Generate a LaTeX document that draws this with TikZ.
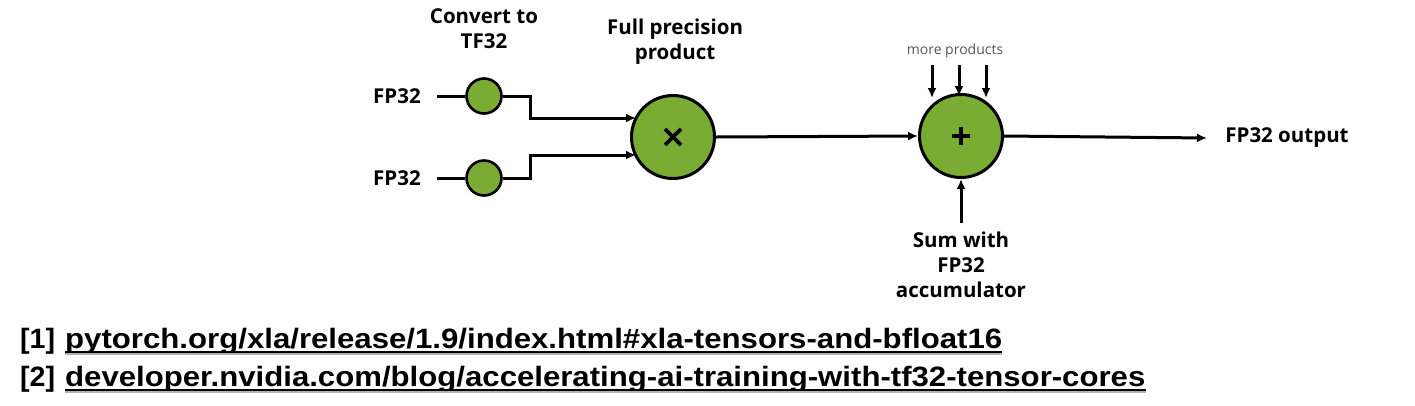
\documentclass[tikz,border=0pt]{standalone}
\usepackage{fontspec}
\setmainfont{Open Sans}
\newfontfamily\reffont{Liberation Sans}
\usetikzlibrary{arrows.meta}
\definecolor{nvgreen}{RGB}{122,172,52}
\definecolor{gtext}{RGB}{85,85,85}
\begin{document}
\begin{tikzpicture}[x=1pt,y=-1pt,
  lbl/.style={font=\fontsize{20.5}{25}\selectfont\bfseries, align=center, inner sep=0pt},
  small/.style={circle, draw=black, line width=2.6pt, fill=nvgreen, minimum size=35pt, inner sep=0pt},
  big/.style={circle, draw=black, line width=3pt, fill=nvgreen, minimum size=83pt, inner sep=0pt},
  sym/.style={line width=3.6pt},
  wire/.style={line width=3pt},
  arr/.style={line width=3pt, -{Latex[length=10pt,width=9pt]}},
  ref/.style={font=\reffont\fontsize{28}{30}\selectfont\bfseries, inner sep=0pt, anchor=base west}
]
\useasboundingbox (0,0) rectangle (1415,405);

% labels
\node[lbl] (fp1) at (397,96) {FP32};
\node[lbl] (fp2) at (397,178) {FP32};
\node[lbl] (conv) at (484,29) {Convert to\\TF32};
\node[lbl] (full) at (675,42) {Full precision\\product};
\node[lbl] (out) at (1287,138) {FP32 output};
\node[lbl] (sum) at (961,265) {Sum with\\FP32\\accumulator};
\node[inner sep=0pt, text=gtext, font=\fontsize{14}{14}\selectfont] (more) at (955,51) {more products};

% circles
\node[small] (c1) at (484,96) {};
\node[small] (c2) at (484,178) {};
\node[big] (mul) at (673,137) {};
\node[big] (add) at (961,136) {};
\draw[sym] ([shift={(-8,-8)}]mul.center) -- ([shift={(8,8)}]mul.center);
\draw[sym] ([shift={(-8,8)}]mul.center) -- ([shift={(8,-8)}]mul.center);
\draw[sym] ([shift={(-9,0)}]add.center) -- ([shift={(9,0)}]add.center);
\draw[sym] ([shift={(0,-9)}]add.center) -- ([shift={(0,9)}]add.center);

% coordinates
\coordinate (f1) at (437,96);
\coordinate (f2) at (437,178);
\coordinate (in1) at (636,118);
\coordinate (in2) at (636,155);
\coordinate (t1) at (932,65);
\coordinate (t2) at (959,65);
\coordinate (t3) at (986,65);
\coordinate (b1) at (932,98);
\coordinate (b2) at (959,96);
\coordinate (b3) at (986,98);
\coordinate (bot) at (961,223);
\coordinate (end) at (1207,138);

% wires
\draw[wire] (f1) -- (c1.west);
\draw[wire] (f2) -- (c2.west);
\draw[arr] (c1.east) -- (530,96) -- (530,118) -- (in1);
\draw[arr] (c2.east) -- (530,178) -- (530,155) -- (in2);
\draw[arr] (mul.east) -- (add.west);
\draw[arr] (add.east) -- (end);
\draw[arr] (t1) -- (b1);
\draw[arr] (t2) -- (b2);
\draw[arr] (t3) -- (b3);
\draw[arr] (bot) -- (add.south);

% references
\node[ref] (r1) at (20,348) {\resizebox{35pt}{\height}{[1]}};
\node[ref] (u1) at (65,348) {\resizebox{937pt}{\height}{pytorch.org/xla/release/1.9/index.html\#xla-tensors-and-bfloat16}};
\node[ref] (r2) at (20,386) {\resizebox{35pt}{\height}{[2]}};
\node[ref] (u2) at (65,386) {\resizebox{1080pt}{\height}{developer.nvidia.com/blog/accelerating-ai-training-with-tf32-tensor-cores}};
\draw[line width=1.2pt, gray!60] ([yshift=-6pt]u1.base west) -- ([yshift=-6pt]u1.base east);
\draw[line width=1.2pt, gray!60] ([yshift=-6pt]u2.base west) -- ([yshift=-6pt]u2.base east);
\draw[line width=1.6pt] ([yshift=-4pt]u1.base west) -- ([yshift=-4pt]u1.base east);
\draw[line width=1.6pt] ([yshift=-4pt]u2.base west) -- ([yshift=-4pt]u2.base east);
\end{tikzpicture}
\end{document}
